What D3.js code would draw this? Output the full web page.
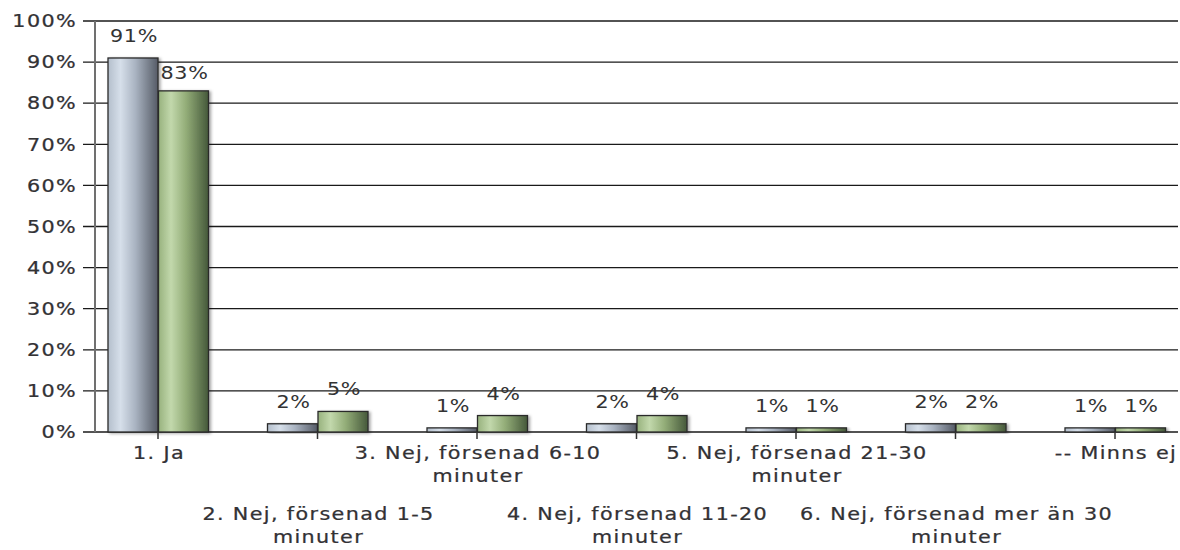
<!DOCTYPE html>
<html><head><meta charset="utf-8">
<script src="https://cdn.jsdelivr.net/npm/d3@7"></script>
<style>
html,body{margin:0;padding:0;background:#fff;}
svg text{font-family:"DejaVu Sans",Verdana,sans-serif;fill:#333;}
</style></head><body>
<svg id="c" width="1180" height="550"></svg>
<script>
const categories = [
  ["1. Ja"],
  ["2. Nej, försenad 1-5", "minuter"],
  ["3. Nej, försenad 6-10", "minuter"],
  ["4. Nej, försenad 11-20", "minuter"],
  ["5. Nej, försenad 21-30", "minuter"],
  ["6. Nej, försenad mer än 30", "minuter"],
  ["-- Minns ej"]
];
const seriesA = [91, 2, 1, 2, 1, 2, 1];
const seriesB = [83, 5, 4, 4, 1, 2, 1];
const yTicks = [0,10,20,30,40,50,60,70,80,90,100];

const svg = d3.select("#c");
const defs = svg.append("defs");
function grad(id, stops){
  const g = defs.append("linearGradient").attr("id", id).attr("x1","0%").attr("x2","100%").attr("y1","0%").attr("y2","0%");
  stops.forEach(s => g.append("stop").attr("offset", s[0]).attr("stop-color", s[1]));
}
grad("gA", [["0%","#b4bfcc"],["25%","#d6dfea"],["55%","#a9b3c1"],["100%","#555b66"]]);
grad("gB", [["0%","#98b27e"],["25%","#c2d8ac"],["55%","#93ad78"],["100%","#45583a"]]);
const f = defs.append("filter").attr("id","sh").attr("x","-10%").attr("y","-10%").attr("width","130%").attr("height","130%");
f.append("feDropShadow").attr("dx",2).attr("dy",1).attr("stdDeviation",1.5).attr("flood-color","#000").attr("flood-opacity",0.35);

const FS = 18, SX = 1.15, LS = "1.2px";
const TXT = "#2e2838";
const idx = categories.map((d,i)=>i);
const x = d3.scaleBand().domain(idx).range([78.25, 1194.75]).padding(0);
const xs = d3.scaleBand().domain([0,1]).range([-50, 51]).padding(0);
const y = d3.scaleLinear().domain([0,100]).range([432, 21]);

// grid lines
svg.append("g").selectAll("line").data(yTicks).join("line")
  .attr("x1", 83).attr("x2", 1178)
  .attr("y1", d => y(d)).attr("y2", d => y(d))
  .attr("stroke", "#1a1a1a").attr("stroke-width", 1.3);

// y axis line
svg.append("line").attr("x1",95).attr("x2",95).attr("y1",y(100)).attr("y2",y(0))
  .attr("stroke","#707070").attr("stroke-width",2);

// y tick labels via axis
const yAxis = svg.append("g").attr("transform","translate(95,0)")
  .call(d3.axisLeft(y).tickValues(yTicks).tickFormat(d => d + "%").tickSize(0).tickPadding(18));
yAxis.select(".domain").remove();
yAxis.selectAll("text")
  .attr("x", -18 / SX)
  .attr("transform", `scale(${SX},1)`)
  .attr("font-size", FS).attr("letter-spacing", LS).attr("fill", TXT)
  .attr("stroke", TXT).attr("stroke-width", 0.25)
  .style("font-family", '"DejaVu Sans",Verdana,sans-serif');

// bars
const data = [];
idx.forEach(i => { data.push({i, s:0, v:seriesA[i]}); data.push({i, s:1, v:seriesB[i]}); });
const cx = i => x(i) + x.bandwidth()/2;
svg.append("g").selectAll("rect").data(data).join("rect")
  .attr("x", d => cx(d.i) + xs(d.s))
  .attr("width", 50)
  .attr("y", d => y(d.v))
  .attr("height", d => y(0) - y(d.v))
  .attr("fill", d => d.s === 0 ? "url(#gA)" : "url(#gB)")
  .attr("stroke", "#2b2b2b").attr("stroke-width", 1.3)
  .attr("filter", "url(#sh)");

// x ticks
svg.append("g").selectAll("line").data(idx).join("line")
  .attr("x1", d => cx(d)).attr("x2", d => cx(d))
  .attr("y1", 432).attr("y2", 439)
  .attr("stroke","#333").attr("stroke-width",1.5);

// value labels
svg.append("g").selectAll("text").data(data).join("text")
  .attr("transform", d => `translate(${cx(d.i) + xs(d.s) + 26},${y(d.v) - (d.i === 0 && d.s === 1 ? 12 : 16)}) scale(${SX},1)`)
  .attr("text-anchor","middle")
  .attr("font-size", FS).attr("letter-spacing","0.6px").attr("fill","#4e4e4e")
  .text(d => d.v + "%");

// category labels (staggered)
const lab = svg.append("g").selectAll("text").data(idx).join("text")
  .attr("text-anchor","middle")
  .attr("font-size", FS).attr("letter-spacing", LS).attr("fill", TXT)
  .attr("stroke", TXT).attr("stroke-width", 0.25)
  .attr("transform", d => `translate(${cx(d) + 1},${d % 2 === 0 ? 459 : 520}) scale(${SX},1)`);
lab.selectAll("tspan").data(d => categories[d]).join("tspan")
  .attr("x", 0).attr("dy", (d,k) => k === 0 ? 0 : 23)
  .text(d => d);
</script></body></html>
